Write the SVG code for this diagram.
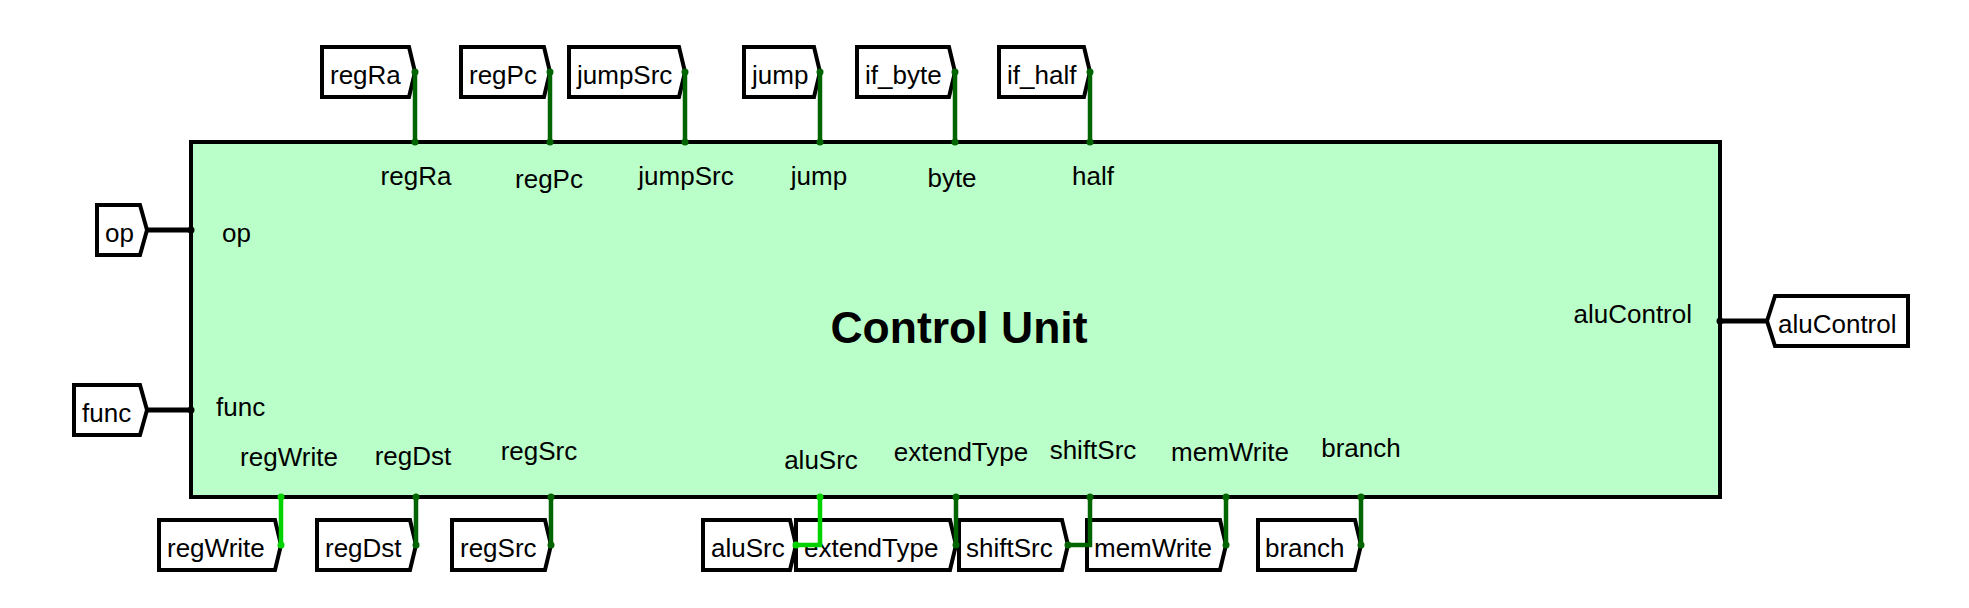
<svg xmlns="http://www.w3.org/2000/svg" width="1969" height="608" viewBox="0 0 1969 608">
<style>
  .bg { fill:#ffffff; }
  .box { fill:#baffc9; stroke:#000; stroke-width:4; }
  .lbl { fill:#ffffff; stroke:#000; stroke-width:4; stroke-linejoin:miter; }
  .t { font-family:"Liberation Sans", Arial, sans-serif; font-size:26px; fill:#000; }
  .mid { text-anchor:middle; }
  .end { text-anchor:end; }
  .title { font-family:"Liberation Sans", Arial, sans-serif; font-size:44.5px; font-weight:bold; fill:#000; text-anchor:middle; }
  .w0 { stroke:#006400; stroke-width:4.5; fill:none; }
  .w1 { stroke:#00d200; stroke-width:4.5; fill:none; }
  .bus { stroke:#000; stroke-width:5; fill:none; }
  .d0 { fill:#006400; }
  .d1 { fill:#00d200; }
  .db { fill:#000; }
</style>
<rect class="bg" x="0" y="0" width="1969" height="608"/>

<g id="control-unit">
  <rect class="box" x="191" y="142" width="1529" height="355"/>
  <text class="title" x="959" y="343">Control Unit</text>
  <text class="t mid" x="416" y="185">regRa</text>
  <text class="t mid" x="549" y="188">regPc</text>
  <text class="t mid" x="686" y="185">jumpSrc</text>
  <text class="t mid" x="819" y="185">jump</text>
  <text class="t mid" x="952" y="187">byte</text>
  <text class="t mid" x="1093" y="185">half</text>
  <text class="t" x="222" y="242">op</text>
  <text class="t" x="216" y="416">func</text>
  <text class="t end" x="1692" y="323">aluControl</text>
  <text class="t mid" x="289" y="466">regWrite</text>
  <text class="t mid" x="413" y="465">regDst</text>
  <text class="t mid" x="539" y="460">regSrc</text>
  <text class="t mid" x="821" y="469">aluSrc</text>
  <text class="t mid" x="961" y="461">extendType</text>
  <text class="t mid" x="1093" y="459">shiftSrc</text>
  <text class="t mid" x="1230" y="461">memWrite</text>
  <text class="t mid" x="1361" y="457">branch</text>
</g>

<g id="tunnel-regRa"><polygon class="lbl" points="322,47 409,47 415,72 409,97 322,97"/><text class="t" x="330" y="84">regRa</text></g>
<g id="tunnel-regPc"><polygon class="lbl" points="461,47 544,47 550,72 544,97 461,97"/><text class="t" x="469" y="84">regPc</text></g>
<g id="tunnel-jumpSrc"><polygon class="lbl" points="569,47 679,47 685,72 679,97 569,97"/><text class="t" x="577" y="84">jumpSrc</text></g>
<g id="tunnel-jump"><polygon class="lbl" points="744,47 814,47 820,72 814,97 744,97"/><text class="t" x="752" y="84">jump</text></g>
<g id="tunnel-if_byte"><polygon class="lbl" points="857,47 949,47 955,72 949,97 857,97"/><text class="t" x="865" y="84">if_byte</text></g>
<g id="tunnel-if_half"><polygon class="lbl" points="999,47 1084,47 1090,72 1084,97 999,97"/><text class="t" x="1007" y="84">if_half</text></g>

<g id="tunnel-op"><polygon class="lbl" points="97,205 140,205 147,230 140,255 97,255"/><text class="t" x="105" y="242">op</text></g>
<g id="tunnel-func"><polygon class="lbl" points="74,385 140,385 147,410 140,435 74,435"/><text class="t" x="82" y="422">func</text></g>

<g id="tunnel-aluControl"><polygon class="lbl" points="1767,321 1775,296 1908,296 1908,346 1775,346"/><text class="t" x="1778" y="333">aluControl</text></g>

<g id="tunnel-regWrite"><polygon class="lbl" points="159,520 275,520 281,545 275,570 159,570"/><text class="t" x="167" y="557">regWrite</text></g>
<g id="tunnel-regDst"><polygon class="lbl" points="317,520 410,520 416,545 410,570 317,570"/><text class="t" x="325" y="557">regDst</text></g>
<g id="tunnel-regSrc"><polygon class="lbl" points="452,520 545,520 551,545 545,570 452,570"/><text class="t" x="460" y="557">regSrc</text></g>
<g id="tunnel-aluSrc"><polygon class="lbl" points="703,520 790,520 796,545 790,570 703,570"/><text class="t" x="711" y="557">aluSrc</text></g>
<g id="tunnel-extendType"><polygon class="lbl" points="796,520 950,520 956,545 950,570 796,570"/><text class="t" x="804" y="557">extendType</text></g>
<g id="tunnel-shiftSrc"><polygon class="lbl" points="959,520 1062,520 1068,545 1062,570 959,570"/><text class="t" x="966" y="557">shiftSrc</text></g>
<g id="tunnel-memWrite"><polygon class="lbl" points="1087,520 1220,520 1226,545 1220,570 1087,570"/><text class="t" x="1094" y="557">memWrite</text></g>
<g id="tunnel-branch"><polygon class="lbl" points="1258,520 1355,520 1361,545 1355,570 1258,570"/><text class="t" x="1265" y="557">branch</text></g>

<g id="connectors">
  <path class="w0" d="M415,72 V142 M550,72 V142 M685,72 V142 M820,72 V142 M955,72 V142 M1090,72 V142"/>
  <g class="d0">
    <circle cx="415" cy="72" r="3.5"/><circle cx="415" cy="142" r="3.5"/>
    <circle cx="550" cy="72" r="3.5"/><circle cx="550" cy="142" r="3.5"/>
    <circle cx="685" cy="72" r="3.5"/><circle cx="685" cy="142" r="3.5"/>
    <circle cx="820" cy="72" r="3.5"/><circle cx="820" cy="142" r="3.5"/>
    <circle cx="955" cy="72" r="3.5"/><circle cx="955" cy="142" r="3.5"/>
    <circle cx="1090" cy="72" r="3.5"/><circle cx="1090" cy="142" r="3.5"/>
  </g>
  <path class="bus" d="M147,230 H191 M147,410 H191 M1720,321 H1767"/>
  <g class="db">
    <circle cx="191" cy="230" r="3.5"/><circle cx="191" cy="410" r="3.5"/><circle cx="1720" cy="321" r="3.5"/>
  </g>
  <path class="w1" d="M281,497 V545 M820,497 V545 H796"/>
  <g class="d1">
    <circle cx="281" cy="497" r="3.5"/><circle cx="281" cy="545" r="3.5"/>
    <circle cx="820" cy="497" r="3.5"/><circle cx="796" cy="545" r="3.5"/>
  </g>
  <path class="w0" d="M416,497 V545 M551,497 V545 M956,497 V545 M1090,497 V545 H1068 M1226,497 V545 M1361,497 V545"/>
  <g class="d0">
    <circle cx="416" cy="497" r="3.5"/><circle cx="416" cy="545" r="3.5"/>
    <circle cx="551" cy="497" r="3.5"/><circle cx="551" cy="545" r="3.5"/>
    <circle cx="956" cy="497" r="3.5"/><circle cx="956" cy="545" r="3.5"/>
    <circle cx="1090" cy="497" r="3.5"/><circle cx="1068" cy="545" r="3.5"/>
    <circle cx="1226" cy="497" r="3.5"/><circle cx="1226" cy="545" r="3.5"/>
    <circle cx="1361" cy="497" r="3.5"/><circle cx="1361" cy="545" r="3.5"/>
  </g>
</g>
</svg>
